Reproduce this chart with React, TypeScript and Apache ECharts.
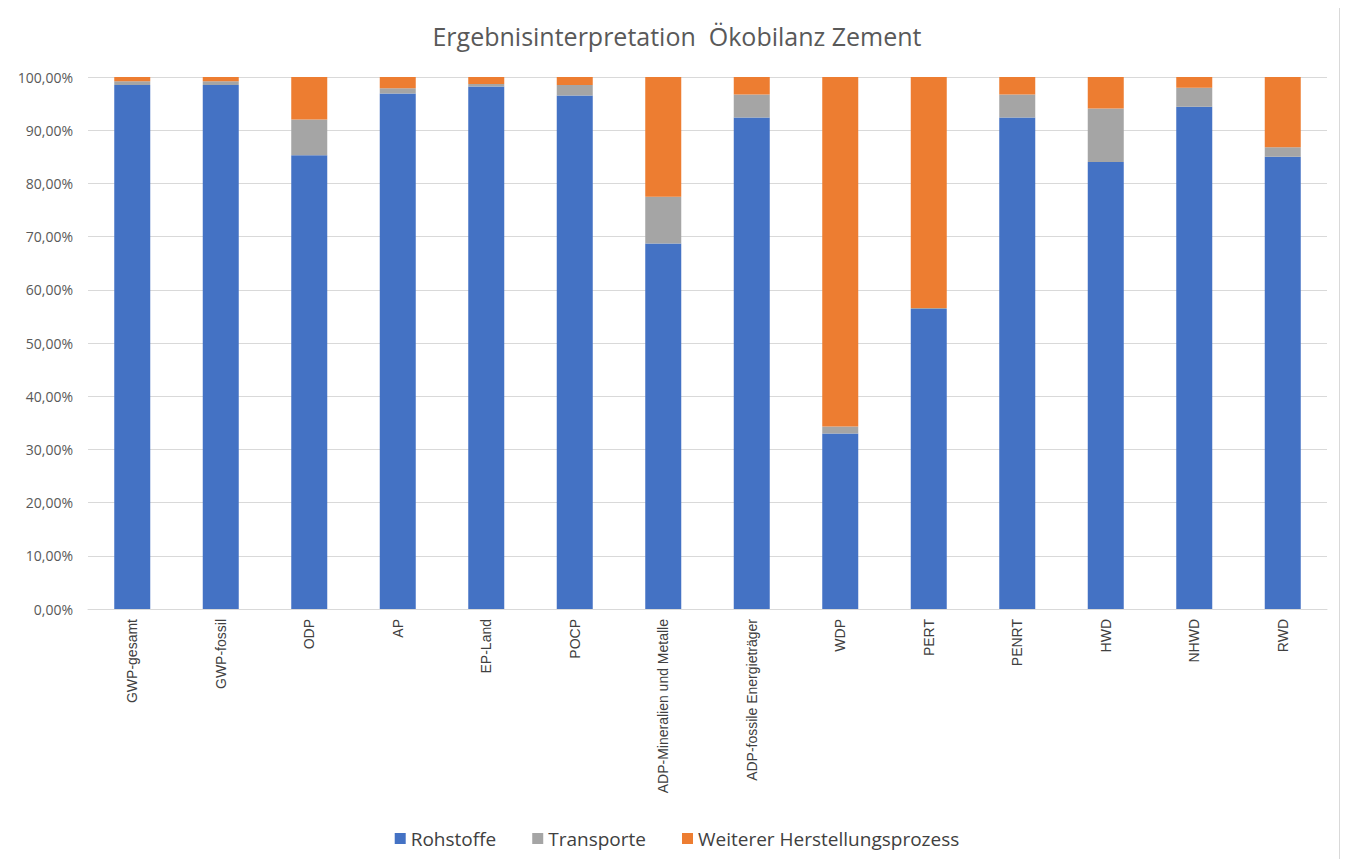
import React, { useEffect, useRef } from "react";
import * as echarts from "echarts";

const categories = [
  "GWP-gesamt", "GWP-fossil", "ODP", "AP", "EP-Land", "POCP",
  "ADP-Mineralien und Metalle", "ADP-fossile Energieträger", "WDP", "PERT",
  "PENRT", "HWD", "NHWD", "RWD",
];
const rohstoffe = [98.5, 98.5, 85.3, 96.9, 98.2, 96.5, 68.7, 92.4, 33.0, 56.4, 92.4, 84.0, 94.4, 85.0];
const transporte = [0.7, 0.7, 6.7, 1.0, 0.5, 2.0, 8.8, 4.3, 1.3, 0.2, 4.3, 10.1, 3.6, 1.8];
const weiterer = [0.8, 0.8, 8.0, 2.1, 1.3, 1.5, 22.5, 3.3, 65.7, 43.4, 3.3, 5.9, 2.0, 13.2];
const seriesNames = ["Rohstoffe", "Transporte", "Weiterer Herstellungsprozess"];
const colors = ["#4472C4", "#A5A5A5", "#ED7D31"];

export default function App() {
  const ref = useRef<HTMLDivElement>(null);
  useEffect(() => {
    if (!ref.current) return;
    const chart = echarts.init(ref.current, null, { renderer: "svg" });
    const data = [rohstoffe, transporte, weiterer];
    chart.setOption({
      animation: false,
      color: colors,
      title: {
        text: "Ergebnisinterpretation  Ökobilanz Zement",
        left: "center",
        top: 18,
        textStyle: { fontFamily: "Open Sans", fontSize: 25, fontWeight: "normal", color: "#595959" },
      },
      graphic: [
        {
          type: "rect",
          shape: { x: 3.5, y: 1.5, width: 1336, height: 864 },
          style: { fill: "none", stroke: "#d9d9d9", lineWidth: 1 },
          silent: true,
        },
      ],
      legend: {
        bottom: 14,
        left: "center",
        icon: "rect",
        itemWidth: 11,
        itemHeight: 11,
        itemGap: 36,
        textStyle: { fontFamily: "Open Sans", fontSize: 19, color: "#404040" },
        data: seriesNames,
      },
      grid: { left: 88, right: 27, top: 77, bottom: 258, containLabel: false },
      xAxis: {
        type: "category",
        data: categories,
        axisTick: { show: false },
        axisLine: { lineStyle: { color: "#d9d9d9" } },
        axisLabel: {
          rotate: 90,
          interval: 0,
          margin: 10,
          fontFamily: "Liberation Sans",
          fontSize: 14,
          color: "#404040",
        },
      },
      yAxis: {
        type: "value",
        min: 0,
        max: 100,
        interval: 10,
        axisLine: { show: false },
        axisTick: { show: false },
        splitLine: { lineStyle: { color: "#d9d9d9" } },
        axisLabel: {
          margin: 15,
          fontFamily: "Open Sans",
          fontSize: 14,
          color: "#595959",
          formatter: (v: number) => v.toFixed(2).replace(".", ",") + "%",
        },
      },
      series: seriesNames.map((name, i) => ({
        name,
        type: "bar",
        stack: "total",
        barWidth: 36,
        data: data[i],
        itemStyle: { color: colors[i] },
      })),
    });
    return () => chart.dispose();
  }, []);
  return <div ref={ref} style={{ width: 1354, height: 867, margin: -8 }} />;
}
